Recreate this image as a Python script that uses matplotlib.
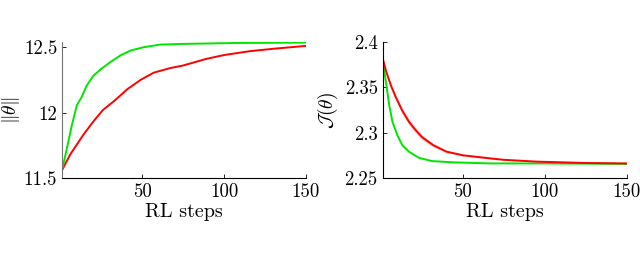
import numpy as np
import matplotlib
matplotlib.use('Agg')
import matplotlib.pyplot as plt

plt.rcParams['font.family'] = 'serif'
plt.rcParams['font.serif'] = ['cmr10']
plt.rcParams['mathtext.fontset'] = 'cm'
plt.rcParams['axes.formatter.use_mathtext'] = True

# values
steps_norm_g = [1, 4, 7, 10, 13, 16, 20, 25, 31, 37, 43, 51, 61, 75, 106, 150]
norm_green = [11.56, 11.73, 11.905, 12.055, 12.12, 12.205, 12.28, 12.335, 12.39, 12.44,
              12.475, 12.50, 12.52, 12.525, 12.532, 12.535]
steps_norm_r = [1, 6, 10, 14, 20, 26, 33, 41, 49, 57, 67, 75, 89, 100, 116, 132, 150]
norm_red = [11.56, 11.68, 11.755, 11.83, 11.93, 12.02, 12.09, 12.18, 12.25, 12.305, 12.34,
            12.36, 12.41, 12.44, 12.47, 12.49, 12.51]

steps_cost_r = [1, 3, 6, 9, 13, 17, 21, 25, 32, 40, 50, 67, 75, 95, 125, 150]
cost_red = [2.382, 2.368, 2.352, 2.339, 2.324, 2.312, 2.303, 2.295, 2.286, 2.279, 2.275,
            2.2715, 2.270, 2.268, 2.2665, 2.266]
cost_red_std = [0.0, 0.0008, 0.0015, 0.0025, 0.003, 0.003, 0.003, 0.0025, 0.002, 0.0012,
                0.001, 0.0008, 0.0006, 0.0005, 0.0005, 0.0005]
steps_cost_g = [1, 3, 5, 7, 10, 13, 17, 23, 31, 44, 67, 100, 150]
cost_green = [2.379, 2.3555, 2.330, 2.3117, 2.297, 2.286, 2.279, 2.2723, 2.2686, 2.2672,
              2.266, 2.266, 2.2655]

green = '#00e600'
red = '#ff0000'

fig = plt.figure(figsize=(6.4, 2.59), dpi=100)
ax1 = fig.add_axes([0.097, 0.313, 0.381, 0.525])
ax2 = fig.add_axes([0.598, 0.313, 0.381, 0.525])

ax1.plot(steps_norm_r, norm_red, color=red, lw=1.4)
ax1.plot(steps_norm_g, norm_green, color=green, lw=1.4)
ax1.set_xlim(1, 150)
ax1.set_ylim(11.5, 12.54)
ax1.set_yticks([11.5, 12, 12.5])
ax1.set_yticklabels(['11.5', '12', '12.5'])
ax1.set_ylabel(r'$\|\theta\|$', fontsize=14)
ax1.yaxis.set_label_coords(-0.165, 0.5)

ax2.fill_between(steps_cost_r, np.array(cost_red) - np.array(cost_red_std),
                 np.array(cost_red) + np.array(cost_red_std), color=red, alpha=0.22, lw=0)
ax2.plot(steps_cost_g, cost_green, color=green, lw=1.4)
ax2.plot(steps_cost_r, cost_red, color=red, lw=1.4)
ax2.set_xlim(1, 150)
ax2.set_ylim(2.25, 2.4)
ax2.set_yticks([2.25, 2.3, 2.35, 2.4])
ax2.set_yticklabels(['2.25', '2.3', '2.35', '2.4'])
ax2.set_ylabel(r'$\mathcal{J}(\theta)$', fontsize=14, labelpad=3)

for ax in (ax1, ax2):
    ax.spines['top'].set_visible(False)
    ax.spines['right'].set_visible(False)
    ax.set_xticks([50, 100, 150])
    ax.set_xticklabels(['50', '100', '150'])
    ax.tick_params(direction='in', length=3, labelsize=13.5, width=0.6)
    ax.set_xlabel('RL steps', fontsize=14.5, labelpad=2)
    for s in ('left', 'bottom'):
        ax.spines[s].set_linewidth(0.8)
ax1.spines['left'].set_color('0.45')

fig.savefig('out.png', dpi=100)
